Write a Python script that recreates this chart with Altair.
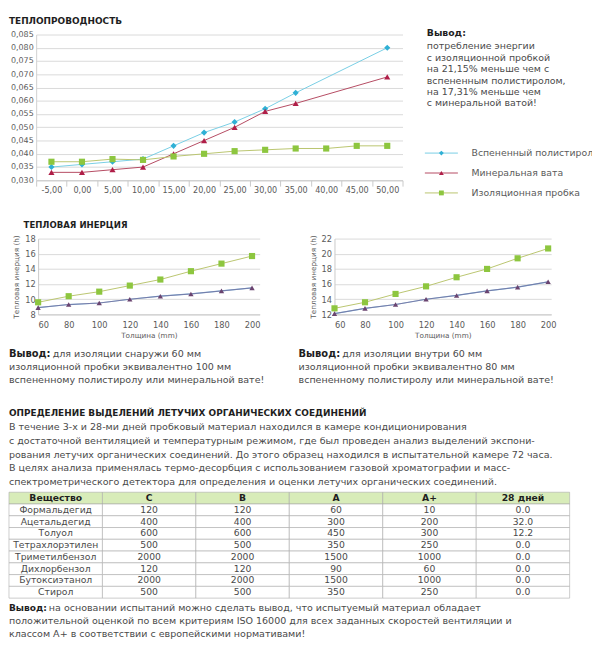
import altair as alt
import pandas as pd

FONT = "DejaVu Sans"
TXT = "#4a4a4a"
DARK = "#1e1e1e"
AXC = "#5a5a5a"
GRID = "#d9d9d9"

# ---------------- Thermal conductivity ----------------
temps = ["-5,00", "0,00", "5,00", "10,00", "15,00", "20,00",
         "25,00", "30,00", "35,00", "40,00", "45,00", "50,00"]
tc_eps = [0.035, 0.036, 0.037, 0.038, 0.043, 0.048, 0.052, 0.057, 0.063, None, None, 0.080]
tc_wool = [0.033, 0.033, 0.034, 0.035, 0.040, 0.045, 0.050, 0.056, 0.059, None, None, 0.069]
tc_cork = [0.037, 0.037, 0.038, 0.0377, 0.039, 0.040, 0.041, 0.0415, 0.042, 0.042, 0.043, 0.043]
tc_yticks = [0.030, 0.035, 0.040, 0.045, 0.050, 0.055, 0.060, 0.065, 0.070, 0.075, 0.080, 0.085]

series_names = ["Вспененный полистирол", "Минеральная вата", "Изоляционная пробка"]
marker_colors = ["#2fb0d5", "#b01e48", "#8dc63f"]
line_colors = ["#76cde4", "#b4475f", "#b9c46c"]
marker_shapes = ["diamond", "triangle-up", "square"]

tc_title = "ТЕПЛОПРОВОДНОСТЬ"
tc_concl_title = "Вывод:"
tc_concl = ["потребление энергии", "с изоляционной пробкой", "на 21,15% меньше чем с",
            "вспененным полистиролом,", "на 17,31% меньше чем", "с минеральной ватой!"]

# ---------------- Thermal inertia ----------------
thickness = [60, 80, 100, 120, 140, 160, 180, 200]
out_cork = [9.6, 10.4, 11.0, 11.8, 12.6, 13.7, 14.7, 15.7]
out_eps = [8.9, 9.3, 9.5, 10.0, 10.4, 10.7, 11.1, 11.5]
out_wool = [8.9, 9.3, 9.5, 10.0, 10.4, 10.7, 11.1, 11.5]
in_cork = [12.8, 13.6, 14.7, 15.7, 16.9, 18.0, 19.4, 20.7]
in_eps = [12.1, 12.8, 13.3, 14.0, 14.5, 15.1, 15.6, 16.3]
in_wool = [12.1, 12.8, 13.3, 14.0, 14.5, 15.1, 15.6, 16.3]
out_yticks = [8, 10, 12, 14, 16, 18]
in_yticks = [12, 14, 16, 18, 20, 22]
inertia_title = "ТЕПЛОВАЯ ИНЕРЦИЯ"
x_title = "Толщина (mm)"
y_title = "Тепловая инерция (h)"
out_concl_first = "для изоляции снаружи 60 мм"
out_concl_rest = ["изоляционной пробки эквивалентно 100 мм",
                  "вспененному полистиролу или минеральной вате!"]
in_concl_first = "для изоляции внутри 60 мм"
in_concl_rest = ["изоляционной пробки эквивалентно 80 мм",
                 "вспененному полистиролу или минеральной вате!"]

# ---------------- VOC ----------------
voc_title = "ОПРЕДЕЛЕНИЕ ВЫДЕЛЕНИЙ ЛЕТУЧИХ ОРГАНИЧЕСКИХ СОЕДИНЕНИЙ"
voc_text = [
    "В течение 3-х и 28-ми дней пробковый материал находился в камере кондиционирования",
    "с достаточной вентиляцией и температурным режимом, где был проведен анализ выделений экспони-",
    "рования летучих органических соединений. До этого образец находился в испытательной камере 72 часа.",
    "В целях анализа применялась термо-десорбция с использованием газовой хроматографии и масс-",
    "спектрометрического детектора для определения и оценки летучих органических соединений.",
]
table_header = ["Вещество", "C", "B", "A", "A+", "28 дней"]
substances = ["Формальдегид", "Ацетальдегид", "Толуол", "Тетрахлорэтилен",
              "Триметилбензол", "Дихлорбензол", "Бутоксиэтанол", "Стирол"]
lim_C = [120, 400, 600, 500, 2000, 120, 2000, 500]
lim_B = [120, 400, 600, 500, 2000, 120, 2000, 500]
lim_A = [60, 300, 450, 350, 1500, 90, 1500, 350]
lim_Ap = [10, 200, 300, 250, 1000, 60, 1000, 250]
day28 = [0.0, 32.0, 12.2, 0.0, 0.0, 0.0, 0.0, 0.0]
voc_concl_first = "на основании испытаний можно сделать вывод, что испытуемый материал обладает"
voc_concl_rest = ["положительной оценкой по всем критериям ISO 16000 для всех заданных скоростей вентиляции и",
                  "классом А+ в соответствии с европейскими нормативами!"]

ONE = pd.DataFrame({"a": [0]})


def txt(text, x, y, size=10, bold=False, color=TXT):
    kw = dict(align="left", baseline="middle", fontSize=size, font=FONT, color=color,
              fontWeight="bold" if bold else "normal")
    return alt.Chart(ONE).mark_text(**kw).encode(
        x=alt.value(x), y=alt.value(y), text=alt.value(text))


def block(lines, x, y0, lh, size=10, bold=False, color=TXT):
    return [txt(s, x, y0 + i * lh, size=size, bold=bold, color=color) for i, s in enumerate(lines)]


def spacer(w, h):
    return alt.Chart(ONE).mark_point(opacity=0, size=1).properties(width=w, height=h)


stroke_enc = alt.Stroke("series:N", scale=alt.Scale(domain=series_names, range=line_colors), legend=None)
color_enc = alt.Color("series:N", scale=alt.Scale(domain=series_names, range=marker_colors), legend=None)
shape_enc = alt.Shape("series:N", scale=alt.Scale(domain=series_names, range=marker_shapes), legend=None)

# ---- Chart 1 ----
rows = []
for name, vals in zip(series_names, [tc_eps, tc_wool, tc_cork]):
    for t, v in zip(temps, vals):
        if v is not None:
            rows.append({"temp": t, "value": v, "series": name})
tc_df = pd.DataFrame(rows)

x_tc = alt.X("temp:O", sort=temps,
             scale=alt.Scale(type="band", domain=temps, paddingInner=0, paddingOuter=0),
             axis=alt.Axis(title=None, labelAngle=0, tickBand="extent", grid=False,
                           domainColor="#c8c8c8", tickColor="#c8c8c8", tickSize=6,
                           labelColor=AXC, labelFontSize=8.3, labelPadding=0, labelFont=FONT))
y_tc = alt.Y("value:Q", scale=alt.Scale(domain=[0.030, 0.085], nice=False, zero=False),
             axis=alt.Axis(title=None, values=tc_yticks,
                           labelExpr="replace(format(datum.value, '.3f'), '.', ',')",
                           grid=True, gridColor=GRID, ticks=False, domainColor="#d0d0d0",
                           labelColor=AXC, labelFontSize=8.2, labelPadding=3, labelFont=FONT))

tc_lines = alt.Chart(tc_df).mark_line(strokeWidth=1).encode(x=x_tc, y=y_tc, stroke=stroke_enc)
tc_pts = alt.Chart(tc_df).mark_point(filled=True, size=40, opacity=1).encode(
    x=x_tc, y=y_tc, color=color_enc, shape=shape_enc)
C1 = alt.layer(tc_lines, tc_pts, txt(tc_title, -28, -14, size=9.2, bold=True, color=DARK)).properties(
    width=377, height=150)

leg_df = pd.DataFrame({"series": series_names})
leg_y = alt.Y("series:N", sort=series_names,
              scale=alt.Scale(type="point", domain=series_names, range=[122, 163], padding=0),
              axis=None)
leg_rule = alt.Chart(leg_df).mark_rule(strokeWidth=1).encode(
    x=alt.value(8), x2=alt.value(42), y=leg_y, stroke=stroke_enc)
leg_pts = alt.Chart(leg_df).mark_point(filled=True, size=25, opacity=1).encode(
    x=alt.value(25), y=leg_y, color=color_enc, shape=shape_enc)
leg_txt = alt.Chart(leg_df).mark_text(align="left", baseline="middle", fontSize=9.6, font=FONT,
                                      color=AXC, clip=True).encode(
    x=alt.value(56), y=leg_y, text="series:N")
P1 = alt.layer(
    leg_rule, leg_pts, leg_txt,
    txt(tc_concl_title, 10, -1, size=9.6, bold=True, color=DARK),
    *block(tc_concl, 10, 12, 11.8, size=9.7),
).properties(width=180, height=172)

R1 = alt.hconcat(spacer(28, 1), C1, spacer(15, 1), P1, spacing=0, bounds="flush")


# ---- Inertia charts ----
def inertia_chart(cork, eps, wool, yticks, ydom, width, xmax, extra):
    recs = []
    for name, vals in zip(series_names, [eps, wool, cork]):
        for t, v in zip(thickness, vals):
            recs.append({"t": t, "v": v, "series": name})
    df = pd.DataFrame(recs)
    x = alt.X("t:Q", scale=alt.Scale(domain=[60, xmax], nice=False, zero=False),
              axis=alt.Axis(values=thickness, grid=False, ticks=False, domainColor="#c8c8c8",
                            labelColor=AXC, labelFontSize=8.5, labelPadding=6, labelFont=FONT,
                            title=x_title, titleFontSize=7.5, titleFontWeight="normal",
                            titleColor=AXC, titlePadding=3, titleFont=FONT))
    y = alt.Y("v:Q", scale=alt.Scale(domain=ydom, nice=False, zero=False),
              axis=alt.Axis(values=yticks, grid=True, gridColor=GRID, ticks=False,
                            domainColor="#c8c8c8", labelColor=AXC, labelFontSize=8.5,
                            labelPadding=3, labelFont=FONT, title=y_title, titleFontSize=7.5,
                            titleFontWeight="normal", titleColor=AXC, titlePadding=4,
                            titleFont=FONT))
    e_df = df[df.series == series_names[0]]
    w_df = df[df.series == series_names[1]]
    c_df = df[df.series == series_names[2]]
    l_e = alt.Chart(e_df).mark_line(strokeWidth=1.2, color="#5f9fd0").encode(x=x, y=y)
    l_w = alt.Chart(w_df).mark_line(strokeWidth=1, color="#8e5f86", opacity=0.55).encode(x=x, y=y)
    p_w = alt.Chart(w_df).mark_point(filled=True, size=30, opacity=1, shape="triangle-up",
                                     color="#6a4470").encode(x=x, y=y)
    l_c = alt.Chart(c_df).mark_line(strokeWidth=1, color=line_colors[2]).encode(x=x, y=y)
    p_c = alt.Chart(c_df).mark_point(filled=True, size=40, opacity=1, shape="square",
                                     color=marker_colors[2]).encode(x=x, y=y)
    return alt.layer(l_e, l_w, p_w, l_c, p_c, *extra).properties(width=width, height=78)


CS = 9.8
I1 = inertia_chart(out_cork, out_eps, out_wool, out_yticks, [8, 18], 228, 205, [
    txt(inertia_title, -15, -14, size=8.8, bold=True, color=DARK),
    txt("Вывод:", -30, 119, size=10.2, bold=True, color=DARK),
    txt(out_concl_first, 15, 119, size=CS),
    *block(out_concl_rest, -30, 132.5, 13.5, size=CS),
])
I2 = inertia_chart(in_cork, in_eps, in_wool, in_yticks, [12, 22], 223, 202, [
    txt("Вывод:", -37, 119, size=10.2, bold=True, color=DARK),
    txt(in_concl_first, 8, 119, size=CS),
    *block(in_concl_rest, -37, 132.5, 13.5, size=CS),
])
R2 = alt.hconcat(spacer(30, 1), I1, spacer(77, 1), I2, spacing=0, bounds="flush")

# ---- Table ----
row_keys = ["__header__"] + substances
trows = []
for c in table_header:
    trows.append({"row": "__header__", "col": c, "text": c, "kind": "header"})
for i, s in enumerate(substances):
    vals = [s, str(lim_C[i]), str(lim_B[i]), str(lim_A[i]), str(lim_Ap[i]), f"{day28[i]:.1f}"]
    for c, v in zip(table_header, vals):
        trows.append({"row": s, "col": c, "text": v, "kind": "body"})
tdf = pd.DataFrame(trows)

tx = alt.X("col:N", sort=table_header,
           scale=alt.Scale(type="band", domain=table_header, paddingInner=0, paddingOuter=0), axis=None)
ty = alt.Y("row:N", sort=row_keys,
           scale=alt.Scale(type="band", domain=row_keys, paddingInner=0, paddingOuter=0), axis=None)
cells = alt.Chart(tdf).mark_rect(stroke="#a9a9a9", strokeWidth=0.6).encode(
    x=tx, y=ty, fill=alt.Fill("kind:N", scale=alt.Scale(domain=["header", "body"],
                                                        range=["#d8ecb9", "#ffffff"]), legend=None))
body_txt = alt.Chart(tdf[tdf.kind == "body"]).mark_text(fontSize=9.5, font=FONT, color=TXT).encode(
    x=tx, y=ty, text="text:N")
head_txt = alt.Chart(tdf[tdf.kind == "header"]).mark_text(fontSize=9.5, font=FONT, color=DARK,
                                                          fontWeight="bold").encode(
    x=tx, y=ty, text="text:N")

VS = 9.8
R3 = alt.layer(
    cells, body_txt, head_txt,
    txt(voc_title, 0, -81, size=9.2, bold=True, color=DARK),
    *block(voc_text, 0, -67, 14.2, size=VS),
    txt("Вывод:", 0, 119, size=9.3, bold=True, color=DARK),
    txt(voc_concl_first, 41, 119, size=VS),
    *block(voc_concl_rest, 0, 132.5, 13.5, size=VS),
).properties(width=577, height=109)

# nested concat rows count as zero height in a flush layout, so the spacers carry the row heights
chart = alt.vconcat(R1, spacer(1, 210), R2, spacer(1, 261), R3, spacing=0, bounds="flush").properties(
    padding=0
).configure(font=FONT).configure_view(strokeWidth=0)

chart.save("out.html", embed_options={"renderer": "svg", "actions": False})
